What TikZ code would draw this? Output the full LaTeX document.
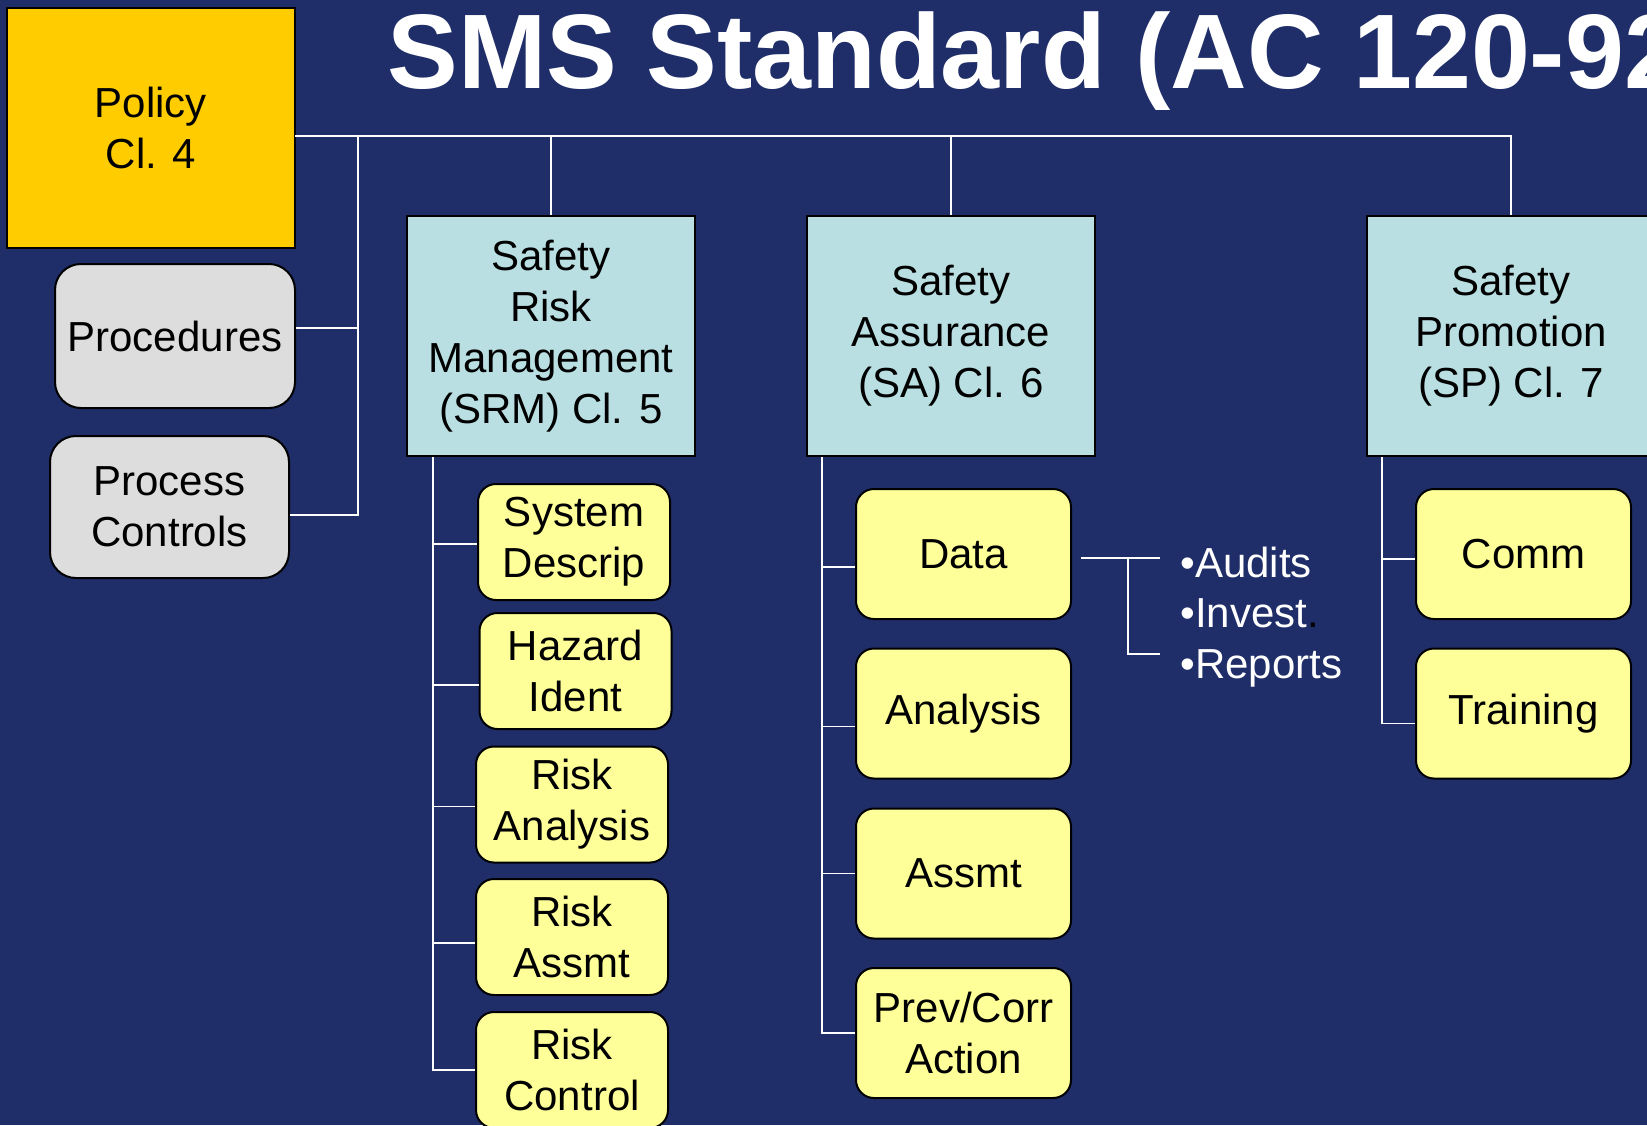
\documentclass[tikz,border=0pt]{standalone}
\usepackage{fontspec}
\setmainfont{Liberation Sans}
\usepackage{tikz}
\usetikzlibrary{calc,positioning}
\definecolor{navy}{HTML}{1F2E68}
\definecolor{gold}{HTML}{FFCC00}
\definecolor{pale}{HTML}{B9DFE3}
\definecolor{lemon}{HTML}{FFFF99}
\definecolor{ashgrey}{HTML}{DDDDDD}
\tikzset{
		boxtext/.style={
			font=\fontsize{21}{25.5}\selectfont,
			text=black,
			align=center,
			inner sep=0pt},
		policybox/.style={
			rectangle,
			fill=gold,
			draw=black, line width=1pt,
			minimum width=144pt,
			minimum height=120pt,
			boxtext},
		pillar/.style={
			rectangle,
			fill=pale,
			draw=black, line width=1pt,
			minimum width=144pt,
			minimum height=120pt,
			boxtext},
		greybox/.style={
			rectangle,
			rounded corners=13pt,
			fill=ashgrey,
			draw=black, line width=1pt,
			minimum width=120pt,
			minimum height=72pt,
			boxtext},
		wire/.style={draw=white, line width=0.7pt},
	}

\begin{document}
\begin{tikzpicture}[
			x=0.5pt, y=-0.5pt,
			srmkid/.style = {rectangle, rounded corners=9pt, fill=lemon,
				draw=black, line width=1pt,
				minimum width=96pt, minimum height=58pt, boxtext},
			kid/.style = {srmkid, minimum width=107.5pt, minimum height=65pt},
			]
			\useasboundingbox (0,0) rectangle (1647,1125);
			\clip (0,0) rectangle (1647,1125);
			\fill[navy] (0,0) rectangle (1647,1125);
			
			\node[anchor=base west, inner sep=0pt, text=white,
			font=\fontsize{53}{60}\selectfont\bfseries] (title) at (387,88)
			{SMS Standard (AC 120-92};
			
			\node[policybox] (policy) at (151,128) {Policy\\Cl. 4};
			\node[greybox] (proc) at (175,336) {Procedures};
			\node[greybox, minimum width=119.5pt, minimum height=71pt]
			(pctrl) at (169.5,507) {Process\\Controls};
			
			\node[pillar] (srm) at (551,336) {Safety\\Risk\\Management\\(SRM) Cl. 5};
			\node[pillar] (sa) at (951,336) {Safety\\Assurance\\(SA) Cl. 6};
			\node[pillar] (sp) at (1511,336) {Safety\\Promotion\\(SP) Cl. 7};
			
			\node[srmkid] (sd) at (574,542) {System\\Descrip};
			\node[srmkid] (hi) at (575.5,671) {Hazard\\Ident};
			\node[srmkid] (ra) at (572,804.5) {Risk\\Analysis};
			\node[srmkid] (ras) at (572,937) {Risk\\Assmt};
			\node[srmkid] (rc) at (572,1070) {Risk\\Control};
			
			\node[kid] (data) at (963.5,554) {Data};
			\node[kid] (an) at (963.5,713.5) {Analysis};
			\node[kid] (asm) at (963.5,873.5) {Assmt};
			\node[kid] (pc) at (963.5,1033) {Prev/Corr\\Action};
			
			\node[kid] (comm) at (1523.5,554) {Comm};
			\node[kid] (tr) at (1523.5,713.5) {Training};
			
			\node[anchor=west, inner sep=0pt, align=left, text=white,
			font=\fontsize{21}{25.25}\selectfont] (items) at (1180,617)
			{\textbullet Audits\\\textbullet Invest{\color{black}.}\\\textbullet Reports};
			
			% top bus
			\coordinate (bus) at (295,136);
			\coordinate (lsp) at (358,136);
			\draw[wire] (bus) -- (bus -| sp.north) -- (sp.north);
			\draw[wire] (bus -| srm.north) -- (srm.north);
			\draw[wire] (bus -| sa.north) -- (sa.north);
			\draw[wire] (lsp) |- ([yshift=-4pt]pctrl.east);
			\draw[wire] ([yshift=4pt]proc.east) -- ([yshift=4pt]proc.east -| lsp);
			
			% spines
			\coordinate (srmsp) at ($(srm.south west)+(27,0)$);
			\coordinate (sasp) at ($(sa.south west)+(16,0)$);
			\coordinate (spsp) at ($(sp.south west)+(16,0)$);
			\draw[wire] (srmsp) |- (rc.west);
			\foreach \k/\d in {sd/1,hi/7,ra/1,ras/3}
			\draw[wire] ([yshift=-\d pt]\k.west -| srmsp) -- ([yshift=-\d pt]\k.west);
			\draw[wire] (sasp) |- (pc.west);
			\foreach \k/\d in {data/6.5,an/6.5,asm/0}
			\draw[wire] ([yshift=-\d pt]\k.west -| sasp) -- ([yshift=-\d pt]\k.west);
			\draw[wire] (spsp) |- ([yshift=-5pt]tr.west);
			\draw[wire] ([yshift=-2.5pt]comm.west -| spsp) -- ([yshift=-2.5pt]comm.west);
			
			% bracket to the list
			\coordinate (fork) at (1128,558);
			\coordinate (tipA) at (1160,558);
			\coordinate (tipB) at (1160,654);
			\draw[wire] ([xshift=4.5pt]data.east |- fork) -- (tipA);
			\draw[wire] (fork) |- (tipB);
\end{tikzpicture}
\end{document}
